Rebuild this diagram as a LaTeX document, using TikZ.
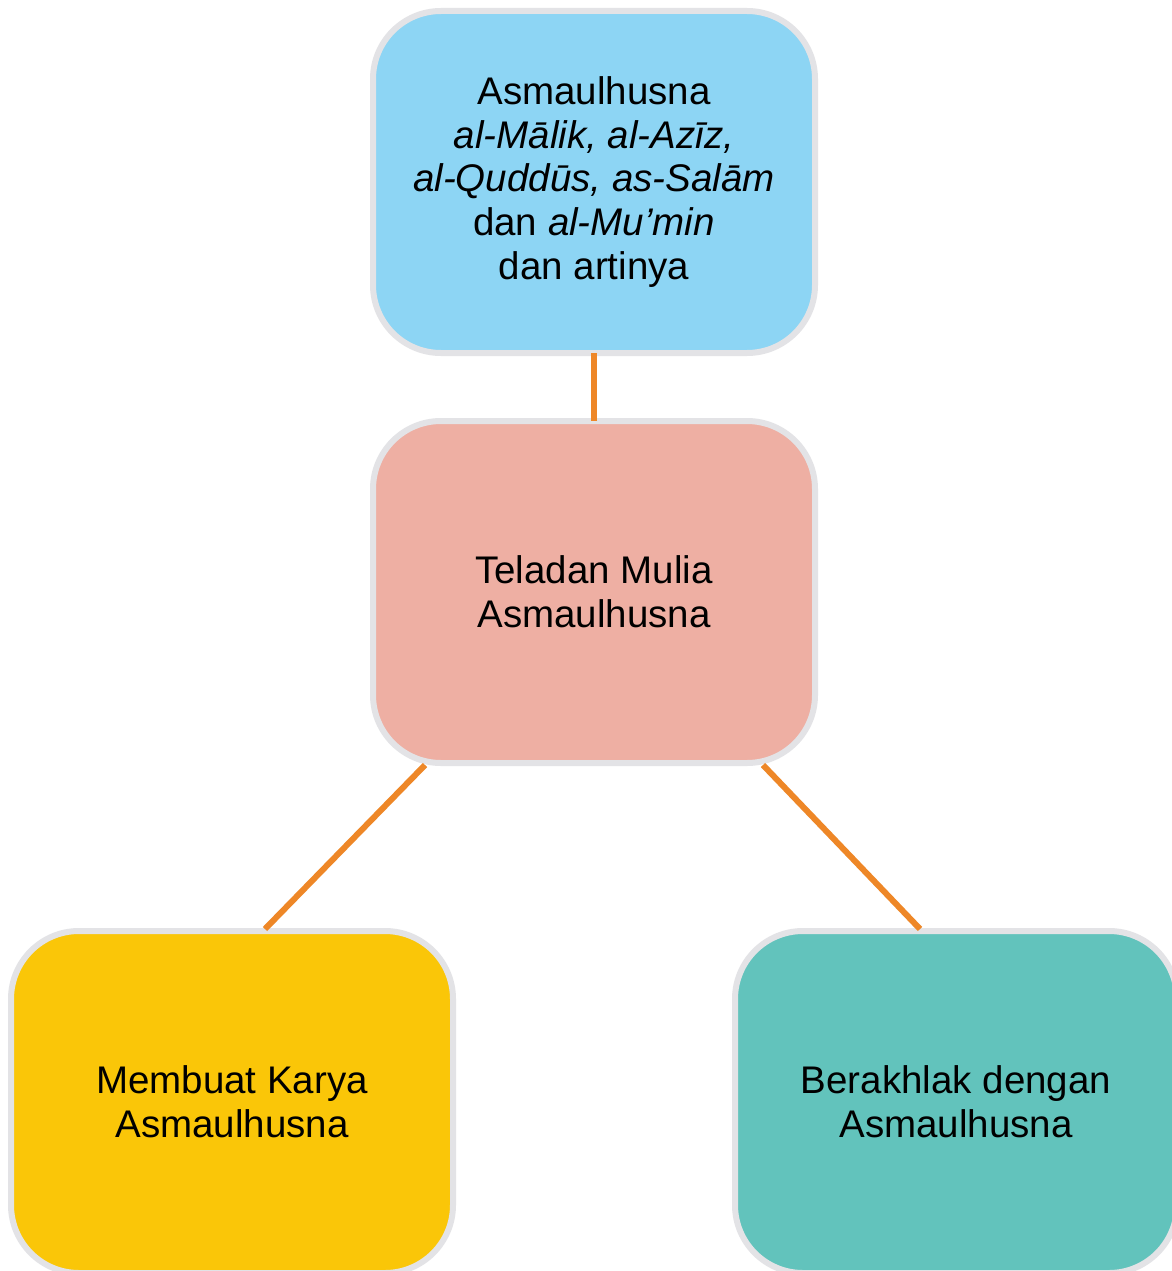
\documentclass[tikz,border=0pt]{standalone}
\usepackage{fontspec}
\setmainfont{Liberation Sans}
\definecolor{boxblue}{HTML}{8DD5F4}
\definecolor{boxsalmon}{HTML}{EEAFA3}
\definecolor{boxyellow}{HTML}{FAC608}
\definecolor{boxteal}{HTML}{62C3BC}
\definecolor{boxedge}{HTML}{E3E3E6}
\definecolor{linkorange}{HTML}{EE8727}
\tikzset{
  card/.style={draw=boxedge, line width=6pt, rounded corners=68pt,
    minimum width=442pt, minimum height=342pt, align=center,
    inner sep=0pt, outer sep=0pt,
    font=\fontsize{38.5}{43.6}\selectfont, text=black},
  link/.style={draw=linkorange, line width=6pt}
}
\begin{document}
\begin{tikzpicture}[x=1pt,y=-1pt]
\useasboundingbox (0,0) rectangle (1171,1271);
\fill[white] (0,0) rectangle (1171,1271);
\coordinate (ctop) at (594,182);
\coordinate (cmid) at (594,592);
\coordinate (cbl) at (232,1102);
\coordinate (cbr) at (956,1102);
\node[card, fill=boxblue] (top) at (ctop) {Asmaulhusna\\ \itshape al-Mālik, al-Azīz,\\ \itshape al-Quddūs, as-Salām\\ dan \itshape al-Mu’min\\ dan artinya};
\node[card, fill=boxsalmon] (mid) at (cmid) {Teladan Mulia\\ Asmaulhusna};
\node[card, fill=boxyellow] (bl) at (cbl) {Membuat Karya\\ Asmaulhusna};
\node[card, fill=boxteal] (br) at (cbr) {Berakhlak dengan\\ Asmaulhusna};
\begin{scope}[on background layer/.style={}]
\draw[link] (top.south) -- (mid.north);
\draw[link] ([xshift=-169pt,yshift=-2pt]mid.south) -- ([xshift=33pt,yshift=2pt]bl.north);
\draw[link] ([xshift=169pt,yshift=-2pt]mid.south) -- ([xshift=-36pt,yshift=2pt]br.north);
\end{scope}
\end{tikzpicture}
\end{document}
